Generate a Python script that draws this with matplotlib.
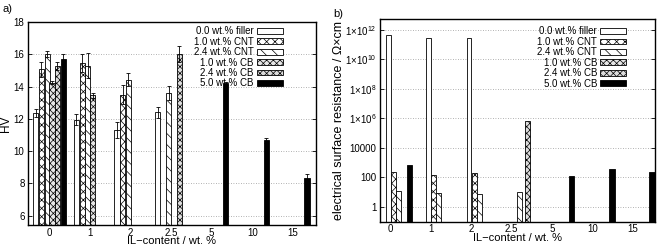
import numpy as np
import matplotlib
matplotlib.use("Agg")
import matplotlib.pyplot as plt

plt.rcParams["font.family"] = ["Liberation Sans", "DejaVu Sans"]
plt.rcParams["mathtext.fontset"] = "custom"
plt.rcParams["mathtext.rm"] = "Liberation Sans"
plt.rcParams["font.size"] = 7
plt.rcParams["hatch.linewidth"] = 0.5

groups = ["0", "1", "2", "2.5", "5", "10", "15"]
series = ["0.0 wt.% filler", "1.0 wt.% CNT", "2.4 wt.% CNT",
          "1.0 wt.% CB", "2.4 wt.% CB", "5.0 wt.% CB"]

# hardness (HV), nan = not measured
hv = {
    "0.0 wt.% filler": [12.35, 11.95, 11.3, 12.4, np.nan, np.nan, np.nan],
    "1.0 wt.% CNT":    [15.07, 15.45, 13.5, np.nan, np.nan, np.nan, np.nan],
    "2.4 wt.% CNT":    [16.0, 15.3, 14.43, 13.6, np.nan, np.nan, np.nan],
    "1.0 wt.% CB":     [14.25, 13.47, np.nan, np.nan, np.nan, np.nan, np.nan],
    "2.4 wt.% CB":     [15.3, np.nan, np.nan, 16.0, np.nan, np.nan, np.nan],
    "5.0 wt.% CB":     [15.7, np.nan, np.nan, np.nan, 14.2, 10.68, 8.35],
}
hv_err = {
    "0.0 wt.% filler": [0.25, 0.35, 0.5, 0.35, 0, 0, 0],
    "1.0 wt.% CNT":    [0.45, 0.55, 0.6, 0, 0, 0, 0],
    "2.4 wt.% CNT":    [0.2, 0.8, 0.4, 0.45, 0, 0, 0],
    "1.0 wt.% CB":     [0.1, 0.15, 0, 0, 0, 0, 0],
    "2.4 wt.% CB":     [0.25, 0, 0, 0.5, 0, 0, 0],
    "5.0 wt.% CB":     [0.3, 0, 0, 0, 0.1, 0.15, 0.2],
}

# surface resistance (Ohm*cm)
res = {
    "0.0 wt.% filler": [4.6e11, 2.9e11, 2.7e11, np.nan, np.nan, np.nan, np.nan],
    "1.0 wt.% CNT":    [240, 135, 186, np.nan, np.nan, np.nan, np.nan],
    "2.4 wt.% CNT":    [11.4, 8.4, 8.0, 10.3, np.nan, np.nan, np.nan],
    "1.0 wt.% CB":     [np.nan] * 7,
    "2.4 wt.% CB":     [np.nan, np.nan, np.nan, 6.3e5, np.nan, np.nan, np.nan],
    "5.0 wt.% CB":     [670, np.nan, np.nan, np.nan, 123, 350, 240],
}

styles = {
    "0.0 wt.% filler": dict(facecolor="white", hatch=None),
    "1.0 wt.% CNT":    dict(facecolor="white", hatch="xxxx"),
    "2.4 wt.% CNT":    dict(facecolor="white", hatch="\\\\\\"),
    "1.0 wt.% CB":     dict(facecolor="#e6e6e6", hatch="xxxxx"),
    "2.4 wt.% CB":     dict(facecolor="#dddddd", hatch="xxxxx"),
    "5.0 wt.% CB":     dict(facecolor="black", hatch=None),
}

# bar offsets within a group (differ between the two panels)
offs_a = [-0.33, -0.19, -0.05, 0.07, 0.2, 0.35]
offs_b = [-0.05, 0.08, 0.2, 0.31, 0.4, 0.48]

fig = plt.figure(figsize=(6.61, 2.46), dpi=100)
ax1 = fig.add_axes([0.0424, 0.0854, 0.4356, 0.8252])
ax2 = fig.add_axes([0.575, 0.0988, 0.416, 0.8227])

x = np.arange(len(groups))


def style_axes(ax):
    ax.set_xticks(x)
    ax.set_xticklabels(groups)
    ax.tick_params(direction="in", top=False, right=True, length=3, width=0.6)
    ax.tick_params(axis="x", length=0, pad=2)
    ax.tick_params(axis="y", pad=2.5)
    ax.yaxis.grid(True, linestyle=(0, (1, 2)), color="#999999", linewidth=0.6)
    ax.set_axisbelow(True)
    for s in ax.spines.values():
        s.set_linewidth(1.0)
    ax.set_xlabel("IL\u2212content / wt. %", fontsize=8, labelpad=-1)


def add_legend(ax, anchor):
    ax.legend(loc="upper right", bbox_to_anchor=anchor, markerfirst=False,
              frameon=False, handlelength=2.7, handleheight=0.55,
              labelspacing=0.05, handletextpad=0.3, borderpad=0,
              borderaxespad=0, fontsize=7)


# panel a
for i, name in enumerate(series):
    pos = x + offs_a[i]
    ax1.bar(pos, hv[name], width=0.125, edgecolor="black", linewidth=0.6,
            **styles[name], label=name)
    err = np.array(hv_err[name])
    vals = np.array(hv[name])
    m = ~np.isnan(vals) & (err > 0)
    ax1.errorbar(pos[m], vals[m], yerr=err[m], fmt="none", ecolor="black",
                 elinewidth=0.6, capsize=1.5, capthick=0.6)
ax1.set_xlim(-0.52, 6.57)
ax1.set_ylim(5.42, 18)
ax1.set_yticks([6, 8, 10, 12, 14, 16, 18])
ax1.set_ylabel("HV", fontsize=8.5)
ax1.yaxis.set_label_coords(-0.054, 0.5)
style_axes(ax1)
add_legend(ax1, (0.885, 0.98))
fig.text(0.004, 0.985, "a)", fontsize=8, va="top")

# panel b
for i, name in enumerate(series):
    pos = x + offs_b[i]
    bw = 0.14 if name == "5.0 wt.% CB" else 0.12
    ax2.bar(pos, res[name], width=bw, bottom=0.01, edgecolor="black",
            linewidth=0.6, **styles[name], label=name)
ax2.set_yscale("log")
ax2.set_xlim(-0.25, 6.55)
ax2.set_ylim(0.1, 5e12)
yt = [1, 100, 1e4, 1e6, 1e8, 1e10, 1e12]
ax2.set_yticks(yt)
ax2.set_yticklabels(["1", "100", "10000", r"$1{\times}10^{6}$",
                     r"$1{\times}10^{8}$", r"$1{\times}10^{10}$",
                     r"$1{\times}10^{12}$"])
ax2.minorticks_off()
ax2.set_ylabel("electrical surface resistance / \u03a9\u00d7cm", fontsize=9,
               labelpad=0)
style_axes(ax2)
add_legend(ax2, (0.895, 0.965))
fig.text(0.504, 0.965, "b)", fontsize=8, va="top")

fig.savefig("out.png", dpi=100)
